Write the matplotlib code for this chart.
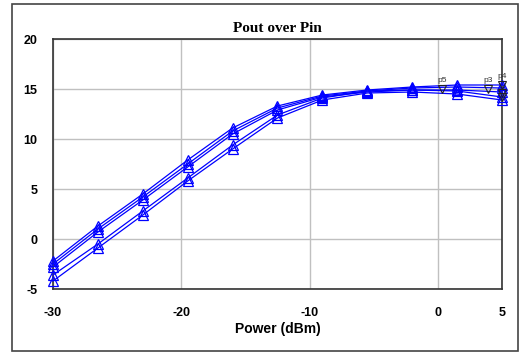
import matplotlib
matplotlib.use("Agg")
import matplotlib.pyplot as plt
from matplotlib.patches import Rectangle

plt.rcParams["axes.unicode_minus"] = False

# ---- data ----
pin = [-30, -26.5, -23, -19.5, -16, -12.5, -9, -5.5, -2, 1.5, 5]
pout_a = [-2.2, 1.3, 4.5, 7.9, 11.1, 13.3, 14.4, 14.9, 15.2, 15.4, 15.4]
pout_b = [-2.5, 1.0, 4.2, 7.5, 10.8, 13.1, 14.3, 14.8, 15.1, 15.2, 15.1]
pout_c = [-2.8, 0.7, 3.9, 7.2, 10.5, 12.9, 14.2, 14.7, 14.9, 14.9, 14.7]
pout_d = [-3.6, -0.5, 2.8, 6.1, 9.4, 12.4, 14.1, 14.8, 14.9, 14.8, 14.2]
pout_e = [-4.2, -0.9, 2.4, 5.8, 9.0, 12.1, 13.9, 14.6, 14.7, 14.5, 13.9]
series = [pout_a, pout_b, pout_c, pout_d, pout_e]

mark_x = [0.3, 3.9, 5.0, 5.0, 5.0]
mark_y = [15.0, 15.0, 15.4, 14.6, 14.2]
mark_lbl = ["p5", "p3", "p4", "p2", "p1"]

xticks = [-30, -20, -10, 0, 5]
yticks = [-5, 0, 5, 10, 15, 20]

# ---- figure ----
fig = plt.figure(figsize=(5.28, 3.54), dpi=100)
fig.patches.append(Rectangle((12/528, 3/354), 506/528, 347/354, transform=fig.transFigure,
                             fill=False, edgecolor="#444444", lw=1.2))
ax = fig.add_axes([53/528, 65/354, 449/528, 250/354])

for s in series:
    ax.plot(pin, s, color="#0000ff", lw=0.9, marker="^", markersize=6.5,
            markerfacecolor="none", markeredgecolor="#0000ff", markeredgewidth=0.9,
            clip_on=False, zorder=3)

ax.plot(mark_x, mark_y, linestyle="none", marker="v", markersize=6,
        markerfacecolor="none", markeredgecolor="#222222", markeredgewidth=0.8,
        clip_on=False, zorder=4)
for x, y, t in zip(mark_x[:3], mark_y[:3], mark_lbl[:3]):
    ax.text(x, y + 0.45, t, fontsize=6, color="#333333", ha="center", va="bottom",
            family="Liberation Sans", zorder=5)

ax.set_xlim(-30, 5)
ax.set_ylim(-5, 20)
ax.set_xticks(xticks)
ax.set_yticks(yticks)
ax.grid(True, color="#c0c0c0", lw=1.0)
ax.set_axisbelow(True)
ax.tick_params(axis="x", length=0, pad=13)
ax.tick_params(axis="y", length=0, pad=11)
for lbl in ax.get_xticklabels() + ax.get_yticklabels():
    lbl.set_fontfamily("Liberation Sans")
    lbl.set_fontweight("bold")
    lbl.set_fontsize(9)
for sp in ax.spines.values():
    sp.set_color("#333333")
    sp.set_linewidth(1.2)

ax.set_xlabel("Power (dBm)", fontfamily="Liberation Sans", fontweight="bold", fontsize=10, labelpad=2)
ax.set_title("Pout over Pin", fontfamily="Liberation Serif", fontweight="bold", fontsize=11, pad=5)

fig.savefig("out.png", dpi=100)
